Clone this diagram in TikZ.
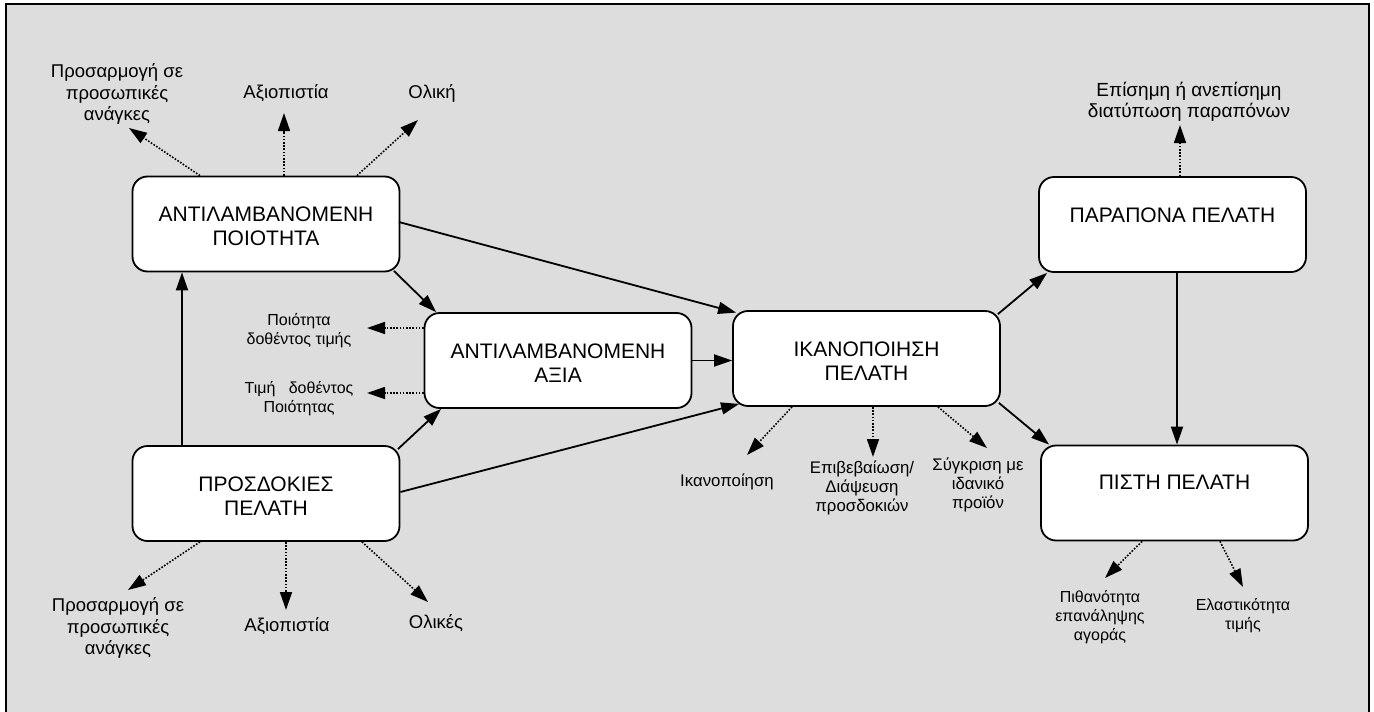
\documentclass[tikz,border=0pt]{standalone}
\usepackage{fontspec}
\setmainfont{Liberation Sans}
\usetikzlibrary{arrows.meta,calc}
\definecolor{panelgray}{RGB}{221,221,221}
\begin{document}
\begin{tikzpicture}[x=1pt,y=-1pt,
  stagebox/.style={draw=black, line width=1.8pt, fill=white, rounded corners=15pt,
    minimum width=267pt, minimum height=95pt, inner sep=0pt},
  stagetext/.style={anchor=north, align=center, inner sep=0pt,
    font=\fontsize{21pt}{24pt}\selectfont},
  flow/.style={line width=1.8pt, -{Triangle[length=18pt,width=12pt]}},
  aspect/.style={line width=1.6pt, dash pattern=on 1.6pt off 1.6pt,
    -{Triangle[length=18pt,width=12pt]}},
  biglabel/.style={align=center, inner sep=0pt, font=\fontsize{18.5pt}{21.5pt}\selectfont},
  smalllabel/.style={align=center, inner sep=0pt, font=\fontsize{16pt}{19pt}\selectfont},
  satlabel/.style={align=center, inner sep=0pt, font=\fontsize{16.8pt}{19pt}\selectfont},
]
\useasboundingbox (0,0) rectangle (1374,712);
% panel
\draw[fill=panelgray, line width=2pt] (6,4) rectangle (1369,724);

% stages
\node[stagebox] (qual)   at (266,224)     {};
\node[stagebox] (value)  at (558,360.5)   {};
\node[stagebox] (sat)    at (866.5,358.5) {};
\node[stagebox] (compl)  at (1172.5,224.5){};
\node[stagebox] (loyal)  at (1174.5,493)  {};
\node[stagebox] (expect) at (266,493.5)   {};

\node[stagetext] (qualtxt)   at ($(qual.north)+(0,31.5)$)   {ΑΝΤΙΛΑΜΒΑΝΟΜΕΝΗ\\ΠΟΙΟΤΗΤΑ};
\node[stagetext] (valuetxt)  at ($(value.north)+(0,31.5)$)  {ΑΝΤΙΛΑΜΒΑΝΟΜΕΝΗ\\ΑΞΙΑ};
\node[stagetext] (sattxt)    at ($(sat.north)+(0,31.5)$)    {ΙΚΑΝΟΠΟΙΗΣΗ\\ΠΕΛΑΤΗ};
\node[stagetext] (compltxt)  at ($(compl.north)+(0,31.5)$)  {ΠΑΡΑΠΟΝΑ ΠΕΛΑΤΗ};
\node[stagetext] (loyaltxt)  at ($(loyal.north)+(0,30)$)    {ΠΙΣΤΗ ΠΕΛΑΤΗ};
\node[stagetext] (expecttxt) at ($(expect.north)+(0,31.5)$) {ΠΡΟΣΔΟΚΙΕΣ\\ΠΕΛΑΤΗ};

% main flows
\draw[flow] ($(qual.east)+(-1.5,-2)$) -- ($(sat.north west)+(4,2.5)$);
\draw[flow] ($(qual.south east)+(-6.5,-1.5)$) -- ($(value.north west)+(12.5,0)$);
\draw[flow] ($(expect.north)+(-84,0)$) -- ($(qual.south)+(-84,0)$);
\draw[flow] ($(expect.north east)+(-2.5,4)$) -- ($(value.south west)+(17.5,0)$);
\draw[flow] ($(expect.east)+(0,-1.5)$) -- ($(sat.south west)+(7,-3)$);
\draw[flow] (value.east) -- (value.east -| sat.west);
\draw[flow] ($(sat.north east)+(-3,4)$) -- ($(compl.south west)+(9,0)$);
\draw[flow] ($(sat.south east)+(-2,-4)$) -- ($(loyal.north west)+(9,0)$);
\draw[flow] ($(compl.south)+(4.5,0)$) -- ($(loyal.north)+(2.5,0)$);

% aspects of perceived quality
\node[biglabel] (qa) at (117,94) {Προσαρμογή σε\\προσωπικές\\ανάγκες};
\node[biglabel] (qb) at (286,93) {Αξιοπιστία};
\node[biglabel] (qc) at (432,93) {Ολική};
\coordinate (qatip) at (129,128);
\coordinate (qbtip) at (284,113);
\coordinate (qctip) at (418,120);
\draw[aspect] ($(qual.north)+(-66,0)$) -- (qatip);
\draw[aspect] ($(qual.north)+(18,0)$) -- (qbtip);
\draw[aspect] ($(qual.north)+(91,0)$) -- (qctip);

% aspects of perceived value
\node[smalllabel] (va) at (299,331) {Ποιότητα\\δοθέντος τιμής};
\node[smalllabel] (vb) at (299,399) {Τιμή\ \ \ δοθέντος\\Ποιότητας};
\coordinate (vatip) at (367,328);
\coordinate (vbtip) at (367,393);
\draw[aspect] (value.west |- vatip) -- (vatip);
\draw[aspect] (value.west |- vbtip) -- (vbtip);

% aspects of satisfaction
\node[satlabel] (sa) at (727,482) {Ικανοποίηση};
\node[satlabel] (sb) at (862,488) {Επιβεβαίωση/\\Διάψευση\\προσδοκιών};
\node[satlabel] (sc) at (978,485) {Σύγκριση με\\ιδανικό\\προϊόν};
\coordinate (satip) at (747,455);
\coordinate (sbtip) at (873,457);
\coordinate (sctip) at (987,448);
\draw[aspect] ($(sat.south)+(-74.5,0)$) -- (satip);
\draw[aspect] ($(sat.south)+(6.5,0)$) -- (sbtip);
\draw[aspect] ($(sat.south)+(71.5,0)$) -- (sctip);

% complaints
\node[biglabel, font=\fontsize{19pt}{21pt}\selectfont] (ca) at (1189,102) {Επίσημη ή ανεπίσημη\\διατύπωση παραπόνων};
\coordinate (catip) at (1180,125);
\draw[aspect] ($(compl.north)+(7.5,0)$) -- (catip);

% loyalty
\node[smalllabel] (la) at (1100,617) {Πιθανότητα\\επανάληψης\\αγοράς};
\node[smalllabel] (lb) at (1243,616) {Ελαστικότητα\\τιμής};
\coordinate (latip) at (1105,578);
\coordinate (lbtip) at (1243,587);
\draw[aspect] ($(loyal.south)+(-32.5,0)$) -- (latip);
\draw[aspect] ($(loyal.south)+(45.5,0)$) -- (lbtip);

% aspects of expectations
\node[biglabel] (ea) at (118,628) {Προσαρμογή σε\\προσωπικές\\ανάγκες};
\node[biglabel] (eb) at (287,626) {Αξιοπιστία};
\node[biglabel] (ec) at (436,623) {Ολικές};
\coordinate (eatip) at (128,590);
\coordinate (ebtip) at (286,610);
\coordinate (ectip) at (428,602);
\draw[aspect] ($(expect.south)+(-66,0)$) -- (eatip);
\draw[aspect] ($(expect.south)+(20,0)$) -- (ebtip);
\draw[aspect] ($(expect.south)+(96,0)$) -- (ectip);
\end{tikzpicture}
\end{document}
